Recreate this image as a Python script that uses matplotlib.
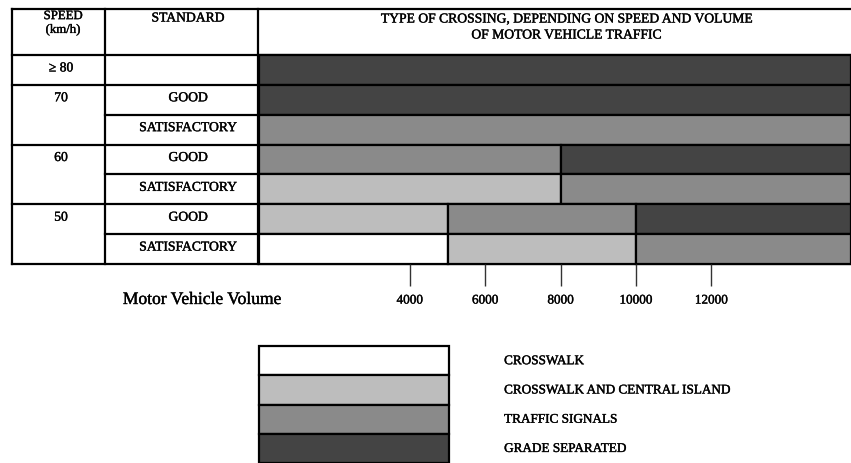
import numpy as np
import matplotlib
matplotlib.use("Agg")
import matplotlib.pyplot as plt
import matplotlib.patheffects as pe

plt.rcParams['font.family'] = ['Liberation Serif', 'DejaVu Serif']
# slightly heavier strokes on all lettering
heavy = [pe.withStroke(linewidth=0.3, foreground='#111111')]

W, H = 851, 464

# crossing types and their fill
crossing_types = ['CROSSWALK', 'CROSSWALK AND CENTRAL ISLAND', 'TRAFFIC SIGNALS', 'GRADE SEPARATED']
crossing_fill = ['#ffffff', '#bdbdbd', '#8a8a8a', '#444444']

# rows of the table
speeds = ['\u2265 80', '70', '', '60', '', '50', '']
standards = ['', 'GOOD', 'SATISFACTORY', 'GOOD', 'SATISFACTORY', 'GOOD', 'SATISFACTORY']
# volume breakpoints per row, and the crossing type for each piece (index into crossing_types)
row_breaks = [[], [], [], [8000], [8000], [5000, 10000], [5000, 10000]]
row_types = [[3], [3], [2], [2, 3], [1, 2], [1, 2, 3], [0, 1, 2]]
vol_max = 15700
vol_ticks = [4000, 6000, 8000, 10000, 12000]


def rect(x0, y0, x1, y1):
    return [x0 / W, 1 - y1 / H, (x1 - x0) / W, (y1 - y0) / H]


fig = plt.figure(figsize=(W / 100, H / 100), dpi=100)

# background axes in pixel units for the table frame and text
bg = fig.add_axes([0, 0, 1, 1])
bg.set_xlim(0, W)
bg.set_ylim(H, 0)
bg.axis('off')

col_x = [12, 105, 258, W]
top, head_bot, bot = 10, 56, 265
nrows = len(speeds)
row_h = (bot - head_bot) / nrows
row_y = [head_bot + i * row_h for i in range(nrows + 1)]

lw = 1.6
bg.plot([col_x[0], W], [top, top], color='k', lw=lw)
bg.plot([col_x[0], W], [head_bot, head_bot], color='k', lw=lw)
bg.plot([col_x[0], W], [bot, bot], color='k', lw=lw)
for x in col_x[:3]:
    bg.plot([x, x], [top, bot], color='k', lw=lw)
for i in range(1, nrows):
    x_start = col_x[0] if speeds[i] or i == 1 else col_x[1]
    bg.plot([x_start, col_x[2]], [row_y[i], row_y[i]], color='k', lw=lw)

fs = 9.8
speed_cx = 61
std_cx = 188
bg.text(speed_cx + 2, 24, 'SPEED\n(km/h)', ha='center', va='center', fontsize=fs - 0.6,
        linespacing=1.2, path_effects=heavy)
bg.text(std_cx, 19, 'STANDARD', ha='center', va='center', fontsize=fs, path_effects=heavy)
bg.text(566, 28, 'TYPE OF CROSSING, DEPENDING ON SPEED AND VOLUME\nOF MOTOR VEHICLE TRAFFIC',
        ha='center', va='center', fontsize=fs, linespacing=1.3, path_effects=heavy)
for i in range(nrows):
    yc = row_y[i] + row_h / 2 - 2
    if speeds[i]:
        bg.text(speed_cx, yc, speeds[i], ha='center', va='center', fontsize=fs,
                path_effects=heavy)
    if standards[i]:
        bg.text(std_cx, yc, standards[i], ha='center', va='center', fontsize=fs,
                path_effects=heavy)

bg.text(202, 301, 'Motor Vehicle Volume', ha='center', va='center', fontsize=12.6, path_effects=heavy)

# crossing type bars against motor vehicle volume
ax = fig.add_axes(rect(col_x[2] + 1, head_bot, W, bot))
for i in range(nrows):
    edges = [0] + row_breaks[i] + [vol_max]
    for j, t in enumerate(row_types[i]):
        ax.barh(i, edges[j + 1] - edges[j], left=edges[j], height=1.0,
                color=crossing_fill[t], edgecolor='k', linewidth=lw, clip_on=False)
ax.set_xlim(0, vol_max)
ax.set_ylim(nrows - 0.5, -0.5)
for s in ax.spines.values():
    s.set_visible(False)
ax.set_yticks([])
ax.set_xticks(vol_ticks)
ax.set_xticklabels([str(v) for v in vol_ticks], fontsize=9.5, path_effects=heavy)
ax.tick_params(axis='x', direction='out', length=16, width=1.0, color='#333333', pad=6)

# legend block
lg = fig.add_axes(rect(259, 347, 449, 464))
for k in range(len(crossing_types)):
    lg.barh(k, 1, left=0, height=1.0, color=crossing_fill[k], edgecolor='k', linewidth=lw, clip_on=False)
    lg.text(1.29, k + 0.02, crossing_types[k], ha='left', va='center', fontsize=9.5, clip_on=False,
            path_effects=heavy)
lg.set_xlim(0, 1)
lg.set_ylim(len(crossing_types) - 0.5, -0.5)
lg.axis('off')

fig.savefig('out.png', dpi=100)
